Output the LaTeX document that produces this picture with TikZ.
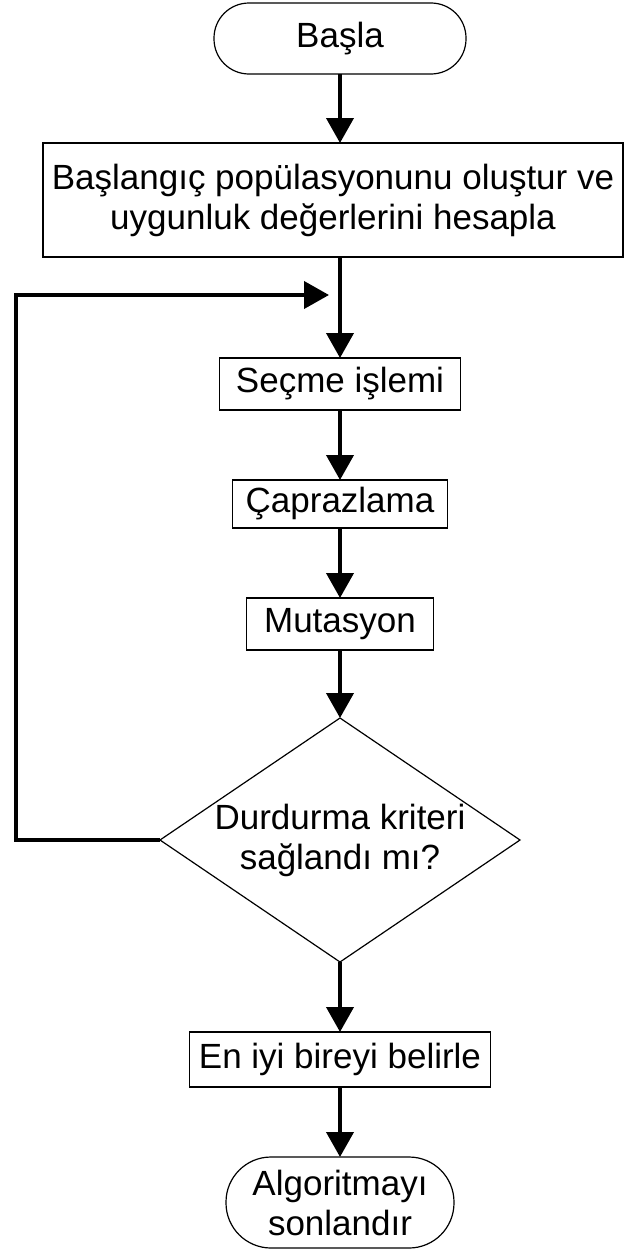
\documentclass[tikz,border=0pt]{standalone}
\usepackage{fontspec}
\setmainfont{Liberation Sans}
\usepackage{tikz}
\usetikzlibrary{positioning,arrows.meta,shapes.geometric}

\begin{document}
\begin{tikzpicture}[x=1pt, y=-1pt,
    font=\fontsize{35}{40}\selectfont,
    kutu/.style={draw, line width=1.2pt, inner sep=0pt, outer sep=0pt, align=center},
    uckutu/.style={kutu, rounded corners=35pt},
    karar/.style={draw, diamond, line width=1.2pt, inner sep=0pt, outer sep=0pt,
      aspect=1.475, minimum width=360pt, minimum height=244pt, align=center},
    ok/.style={line width=4pt, -{Triangle[width=27pt,length=25pt]}}]
  % Sayfa boyutu
  \useasboundingbox (0,0) rectangle (627,1250);
  \def\cx{340} % akış ekseni

  % Düğümler
  \node[uckutu, minimum width=252pt, minimum height=71pt] (basla) at (\cx,38.5) {Başla};
  \node[kutu, minimum width=580pt, minimum height=114pt] (baslangic) at (333,200)
    {Başlangıç popülasyonunu oluştur ve\\uygunluk değerlerini hesapla};
  \node[kutu, minimum width=241pt, minimum height=52pt] (secme) at (\cx,384) {Seçme işlemi};
  \node[kutu, minimum width=215pt, minimum height=48pt] (capraz) at (\cx,504) {Çaprazlama};
  \node[kutu, minimum width=187pt, minimum height=52pt] (mutasyon) at (\cx,624) {Mutasyon};
  \node[karar] (durdurma) at (\cx,840) {Durdurma kriteri\\sağlandı mı?};
  \node[kutu, minimum width=301pt, minimum height=55pt] (eniyi) at (\cx,1059.5) {En iyi bireyi belirle};
  \node[uckutu, rounded corners=45pt, minimum width=228pt, minimum height=91pt] (bitir) at (\cx,1202.5)
    {Algoritmayı\\sonlandır};

  % Oklar
  \draw[ok] (basla.south) -- (basla.south |- baslangic.north);
  \draw[ok] (secme.north |- baslangic.south) -- (secme.north);
  \draw[ok] (secme) -- (capraz);
  \draw[ok] (capraz) -- (mutasyon);
  \draw[ok] (mutasyon) -- (durdurma);
  \draw[ok] (durdurma) -- (eniyi);
  \draw[ok] (eniyi) -- (bitir);

  % Geri dönüş
  \coordinate (sol) at (16,295);
  \coordinate (geri) at (329,295);
  \draw[ok, line join=miter] (durdurma.west) -| (sol) -- (geri);
\end{tikzpicture}
\end{document}
